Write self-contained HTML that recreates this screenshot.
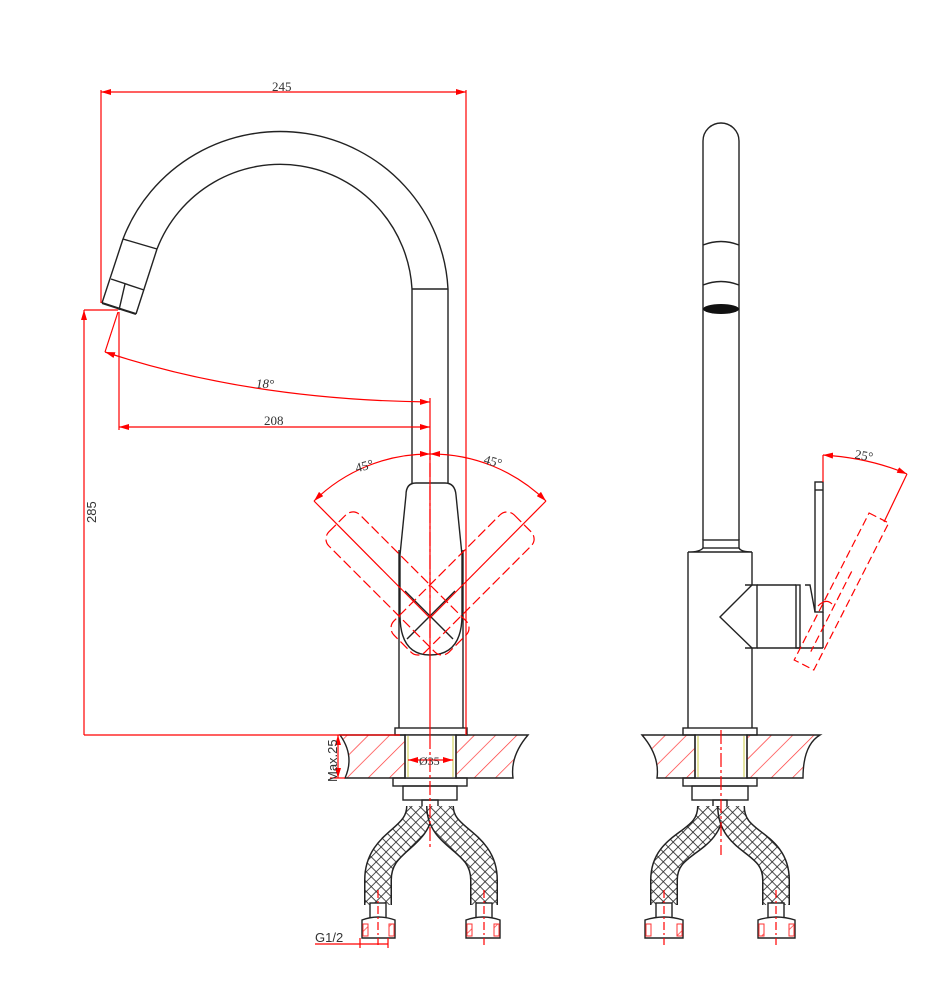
<!DOCTYPE html>
<html><head><meta charset="utf-8"><style>
html,body{margin:0;padding:0;background:#fff;width:950px;height:1000px;overflow:hidden}
svg{display:block}
text{font-family:"Liberation Serif",serif;fill:#333}
</style></head><body>
<svg width="950" height="1000" viewBox="0 0 950 1000" xmlns="http://www.w3.org/2000/svg">
<defs>
<pattern id="hatch" width="15" height="15" patternUnits="userSpaceOnUse" patternTransform="rotate(45)">
<line x1="0" y1="0" x2="0" y2="15" stroke="#f33" stroke-width="1.4"/>
</pattern>
<pattern id="braid" width="7" height="7" patternUnits="userSpaceOnUse" patternTransform="rotate(45)">
<rect width="7" height="7" fill="#fff"/>
<line x1="0" y1="0" x2="7" y2="0" stroke="#222" stroke-width="1.6"/>
<line x1="0" y1="0" x2="0" y2="7" stroke="#222" stroke-width="1.6"/>
</pattern>
<marker id="ar" markerWidth="10" markerHeight="6" refX="10" refY="3" orient="auto-start-reverse" markerUnits="userSpaceOnUse">
<path d="M0,0 L10,3 L0,6 z" fill="#f00"/>
</marker>
</defs>

<!-- ============ LEFT VIEW ============ -->
<g fill="none" stroke="#222" stroke-width="1.4">
<path d="M448,289 A168,166 0 0 0 123,239"/>
<path d="M412,289 A132,132 0 0 0 157,249"/>
<line x1="412" y1="289" x2="448" y2="289"/>
<line x1="412" y1="289" x2="412" y2="483"/>
<line x1="448" y1="289" x2="448" y2="483"/>
<line x1="123" y1="239" x2="157" y2="249"/>
<line x1="123" y1="239" x2="102" y2="303"/>
<line x1="157" y1="249" x2="136" y2="314"/>
<line x1="111" y1="279" x2="144" y2="290"/>
<line x1="102" y1="303" x2="136" y2="314" stroke-width="2"/>
<line x1="125" y1="284" x2="119" y2="310"/>
<path d="M406,495 Q406,483 416,483 L445,483 Q455,483 456,495 L462,555 L462,615 Q462,655 430,655 Q400,655 400,615 L400,555 Z"/>
<line x1="405" y1="591" x2="453" y2="639"/>
<line x1="455" y1="591" x2="407" y2="639"/>
<line x1="399" y1="550" x2="399" y2="728"/>
<line x1="463" y1="550" x2="463" y2="728"/>
<rect x="395" y="728" width="72" height="7"/>
<rect x="393" y="778" width="74" height="8"/>
<rect x="403" y="786" width="54" height="14"/>
<rect x="422" y="800" width="16" height="14"/>
</g>
<rect x="405" y="735" width="51" height="43" fill="#fff" stroke="#222" stroke-width="1.4"/>
<line x1="408" y1="736" x2="408" y2="777" stroke="#cc4" stroke-width="1"/>
<line x1="453" y1="736" x2="453" y2="777" stroke="#cc4" stroke-width="1"/>
<path d="M340,735 L405,735 L405,778 L345,778 Q355,756 340,735 Z" fill="url(#hatch)" stroke="#222" stroke-width="1.4"/>
<path d="M456,735 L528,735 Q510,756 513,778 L456,778 Z" fill="url(#hatch)" stroke="#222" stroke-width="1.4"/>
<g fill="none" stroke-linecap="butt">
<path d="M420,806 C420,840 378,840 378,880 L378,905" stroke="#222" stroke-width="28"/>
<path d="M420,806 C420,840 378,840 378,880 L378,905" stroke="url(#braid)" stroke-width="25"/>
<path d="M440,806 C440,840 484,840 484,880 L484,905" stroke="#222" stroke-width="28"/>
<path d="M440,806 C440,840 484,840 484,880 L484,905" stroke="url(#braid)" stroke-width="25"/>
</g>
<g fill="#fff" stroke="#222" stroke-width="1.4">
<rect x="370" y="903" width="16" height="15"/>
<rect x="476" y="903" width="16" height="15"/>
<path d="M362,920 Q378,914 395,920 L395,938 L362,938 Z"/>
<path d="M466,920 Q483,914 500,920 L500,938 L466,938 Z"/>
</g>
<g fill="url(#hatch)" stroke="#f33" stroke-width="1"><rect x="363" y="924" width="5" height="12"/><rect x="389" y="924" width="5" height="12"/><rect x="467" y="924" width="5" height="12"/><rect x="494" y="924" width="5" height="12"/></g>

<g fill="none" stroke="#f00" stroke-width="1.2">
<line x1="101" y1="92" x2="466" y2="92" marker-start="url(#ar)" marker-end="url(#ar)"/>
<line x1="101" y1="90" x2="101" y2="303"/>
<line x1="466" y1="90" x2="466" y2="735"/>
<line x1="84" y1="310" x2="118" y2="310"/>
<line x1="84" y1="735" x2="84" y2="310" marker-end="url(#ar)"/>
<line x1="84" y1="735" x2="400" y2="735"/>
<line x1="119" y1="312" x2="119" y2="430"/>
<line x1="119" y1="427" x2="430" y2="427" marker-start="url(#ar)" marker-end="url(#ar)"/>
<line x1="430" y1="398" x2="430" y2="735"/>
<line x1="118" y1="312" x2="105" y2="352"/>
<path d="M105,352 Q250,400 430,402" marker-start="url(#ar)" marker-end="url(#ar)"/>
<path d="M314,501 A164,164 0 0 1 430,454" marker-start="url(#ar)" marker-end="url(#ar)"/>
<path d="M546,501 A164,164 0 0 0 430,454" marker-start="url(#ar)" marker-end="url(#ar)"/>
<line x1="314" y1="501" x2="430" y2="618"/>
<line x1="546" y1="501" x2="430" y2="618"/>
<line x1="430" y1="440" x2="430" y2="660" stroke-dasharray="14,3,3,3"/>
<g stroke-dasharray="10,4">
<g transform="rotate(-45 430 616)"><rect x="408" y="485" width="44" height="170" rx="10"/></g>
<g transform="rotate(45 430 616)"><rect x="408" y="485" width="44" height="170" rx="10"/></g>
</g>
<line x1="408" y1="760" x2="453" y2="760" marker-start="url(#ar)" marker-end="url(#ar)"/>
<line x1="430" y1="735" x2="430" y2="850" stroke-dasharray="14,3,3,3"/>
<line x1="338" y1="735" x2="338" y2="778" marker-start="url(#ar)" marker-end="url(#ar)"/>
<line x1="330" y1="778" x2="345" y2="778"/>
<line x1="378" y1="890" x2="378" y2="945" stroke-dasharray="8,3,2,3"/>
<line x1="484" y1="890" x2="484" y2="945" stroke-dasharray="8,3,2,3"/>
<line x1="315" y1="944" x2="388" y2="944"/>
<line x1="360" y1="938" x2="360" y2="948"/><line x1="388" y1="938" x2="388" y2="948"/>
</g>
<text x="272" y="91" font-size="13">245</text>
<text x="264" y="425" font-size="13">208</text>
<text x="256" y="388" font-size="13" font-style="italic">18°</text>
<text x="355" y="470" font-size="13" transform="rotate(-15 365 465)">45°</text>
<text x="484" y="466" font-size="13" transform="rotate(15 494 461)">45°</text>
<text x="84" y="535" font-size="13" transform="rotate(-90 84 523)" style="font-family:'Liberation Sans',sans-serif">285</text>
<text x="419" y="765" font-size="12">Ø35</text>
<text x="337" y="782" font-size="13" style="font-family:'Liberation Sans',sans-serif" transform="rotate(-90 337 782)">Max.25</text>
<text x="315" y="942" font-size="13" style="font-family:'Liberation Sans',sans-serif">G1/2</text>

<!-- ============ RIGHT VIEW ============ -->
<g fill="none" stroke="#222" stroke-width="1.4">
<path d="M703,540 L703,141 A18,18 0 0 1 739,141 L739,540"/>
<path d="M703,245 Q721,238 739,245"/>
<path d="M703,285 Q721,278 739,285"/>
<rect x="703" y="540" width="36" height="8"/>
<path d="M703,548 Q700,552 688,552 L752,552 Q741,552 739,548"/>
<line x1="688" y1="552" x2="688" y2="728"/>
<line x1="752" y1="552" x2="752" y2="585"/>
<line x1="752" y1="648" x2="752" y2="728"/>
<path d="M752,585 L720,617 L752,648"/>
<path d="M745,585 L757,585 L757,648 L745,648"/>
<line x1="757" y1="585" x2="796" y2="585"/>
<line x1="757" y1="648" x2="823" y2="648"/>
<rect x="796" y="585" width="4" height="63"/>
<rect x="815" y="482" width="8" height="130"/>
<line x1="815" y1="490" x2="823" y2="490"/>
<path d="M823,612 L823,648"/>
<path d="M805,585 L810,585 L815,612"/>
<rect x="683" y="728" width="74" height="7"/>
<rect x="683" y="778" width="74" height="8"/>
<rect x="692" y="786" width="56" height="14"/>
<rect x="713" y="800" width="14" height="14"/>
</g>
<ellipse cx="721" cy="309" rx="18" ry="5" fill="#111"/>
<rect x="695" y="735" width="52" height="43" fill="#fff" stroke="#222" stroke-width="1.4"/>
<line x1="698" y1="736" x2="698" y2="777" stroke="#cc4"/>
<line x1="744" y1="736" x2="744" y2="777" stroke="#cc4"/>
<path d="M642,735 L695,735 L695,778 L657,778 Q660,756 642,735 Z" fill="url(#hatch)" stroke="#222" stroke-width="1.4"/>
<path d="M747,735 L820,735 Q803,745 803,778 L747,778 Z" fill="url(#hatch)" stroke="#222" stroke-width="1.4"/>
<g fill="none">
<path d="M711,806 C711,845 664,840 664,880 L664,905" stroke="#222" stroke-width="28"/>
<path d="M711,806 C711,845 664,840 664,880 L664,905" stroke="url(#braid)" stroke-width="25"/>
<path d="M731,806 C731,845 776,840 776,880 L776,905" stroke="#222" stroke-width="28"/>
<path d="M731,806 C731,845 776,840 776,880 L776,905" stroke="url(#braid)" stroke-width="25"/>
</g>
<g fill="#fff" stroke="#222" stroke-width="1.4">
<rect x="656" y="903" width="16" height="15"/>
<rect x="768" y="903" width="16" height="15"/>
<path d="M645,920 Q664,914 683,920 L683,938 L645,938 Z"/>
<path d="M758,920 Q776,914 795,920 L795,938 L758,938 Z"/>
</g>
<g fill="url(#hatch)" stroke="#f33" stroke-width="1"><rect x="646" y="924" width="5" height="12"/><rect x="677" y="924" width="5" height="12"/><rect x="759" y="924" width="5" height="12"/><rect x="789" y="924" width="5" height="12"/></g>
<g fill="none" stroke="#f00" stroke-width="1.2">
<line x1="721" y1="730" x2="721" y2="855" stroke-dasharray="14,3,3,3"/>
<line x1="664" y1="890" x2="664" y2="945" stroke-dasharray="8,3,2,3"/>
<line x1="776" y1="890" x2="776" y2="945" stroke-dasharray="8,3,2,3"/>
<line x1="823" y1="482" x2="823" y2="455"/>
<path d="M823,455 Q870,458 907,474" marker-start="url(#ar)" marker-end="url(#ar)"/>
<line x1="907" y1="474" x2="884" y2="522"/>
<g stroke-dasharray="8,4" transform="rotate(27 804 665)">
<rect x="793" y="500" width="22" height="165"/>
<line x1="804" y1="560" x2="804" y2="650"/>
</g>
<path d="M818,606 Q826,598 832,604"/>
</g>
<text x="855" y="460" font-size="13" transform="rotate(10 865 455)">25°</text>
</svg>
</body></html>
